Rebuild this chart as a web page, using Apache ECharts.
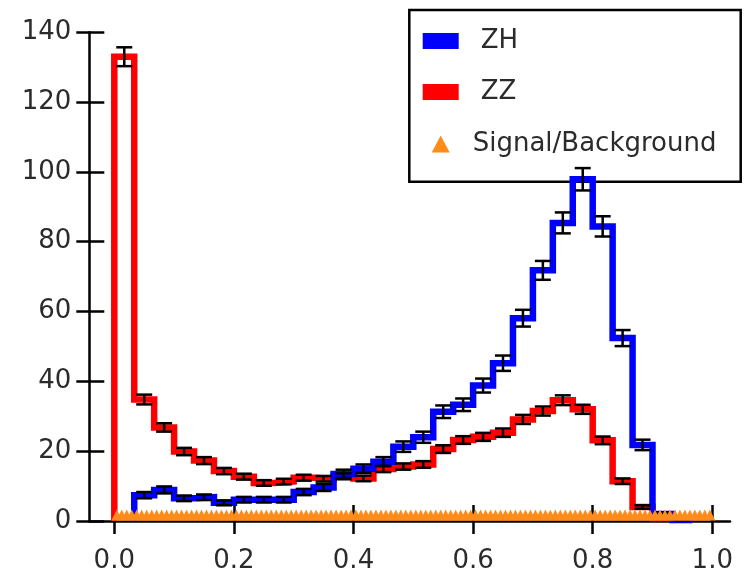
<!DOCTYPE html>
<html>
<head>
<meta charset="utf-8">
<script src="https://cdn.jsdelivr.net/npm/echarts@6/dist/echarts.min.js"></script>
<style>
  html, body { margin: 0; padding: 0; background: #ffffff; }
  #chart { width: 746px; height: 574px; }
</style>
</head>
<body>
<div id="chart"></div>
<script>
// Histogram binning: 30 equal bins on [0, 1]
const binCount = 30;
const binLow = 0;
const binHigh = 1;

// ZH (signal) bin contents and uncertainties
const zhCounts = [0, 7.4, 8.9, 6.5, 6.8, 5.2, 6.1, 6.1, 6.1, 8.3,
                  9.6, 13.5, 15.0, 17.0, 21.3, 24.0, 31.3, 33.3, 38.8, 45.2,
                  58.1, 71.8, 85.4, 97.9, 84.4, 52.4, 21.8, 2.0, 0.3, 0];
const zhErrors = [0, 0.9, 1.0, 0.8, 0.8, 0.7, 0.8, 0.8, 0.8, 0.9,
                  1.0, 1.2, 1.2, 1.3, 1.5, 1.6, 1.8, 1.8, 2.0, 2.2,
                  2.4, 2.7, 3.0, 3.2, 2.9, 2.3, 1.5, 0.5, 0.2, 0];

// ZZ (background) bin contents and uncertainties
const zzCounts = [133, 34.8, 26.8, 19.9, 17.3, 14.3, 12.7, 10.9, 11.3, 12.4,
                  12.1, 12.8, 12.2, 14.9, 15.6, 16.2, 20.6, 23.2, 24.1, 25.3,
                  29.1, 31.5, 34.6, 32.0, 23.1, 11.4, 4.0, 0.8, 0, 0];
const zzErrors = [2.7, 1.4, 1.2, 1.05, 1.0, 0.9, 0.85, 0.8, 0.8, 0.85,
                  0.8, 0.85, 0.8, 0.9, 0.9, 0.95, 1.1, 1.1, 1.15, 1.2,
                  1.3, 1.3, 1.4, 1.3, 1.1, 0.8, 0.5, 0.2, 0, 0];

// Signal/Background in 120 fine bins on [0, 1]
const ratioBinCount = 120;
const ratioValues = [
  1.7, 1.7, 1.7, 1.7, 1.7, 1.7, 1.7, 1.7, 1.7, 1.7, 1.7, 1.7,
  1.7, 1.7, 1.7, 1.7, 1.7, 1.7, 1.7, 1.7, 1.7, 1.7, 1.7, 1.7,
  1.7, 1.7, 1.7, 1.7, 1.7, 1.7, 1.7, 1.7, 1.7, 1.7, 1.7, 1.7,
  1.7, 1.7, 1.7, 1.7, 1.7, 1.7, 1.7, 1.7, 1.7, 1.7, 1.7, 1.7,
  1.7, 1.7, 1.7, 1.7, 1.7, 1.7, 1.7, 1.7, 1.7, 1.7, 1.7, 1.7,
  1.7, 1.7, 1.7, 1.7, 1.7, 1.7, 1.7, 1.7, 1.7, 1.7, 1.7, 1.7,
  1.7, 1.7, 1.7, 1.7, 1.7, 1.7, 1.7, 1.7, 1.7, 1.7, 1.7, 1.7,
  1.7, 1.7, 1.7, 1.7, 1.7, 1.7, 1.7, 1.7, 1.7, 1.7, 1.7, 1.7,
  1.7, 1.7, 1.7, 1.7, 1.7, 1.7, 1.7, 1.7, 1.7, 1.7, 1.7, 1.7,
  1.7, 1.7, 1.7, 1.7, 1.7, 1.7, 1.7, 1.7, 1.7, 1.7, 1.7, 1.7
];

// Axis ticks
const xTickValues = [0.0, 0.2, 0.4, 0.6, 0.8, 1.0];
const yMin = 0, yMax = 140, yStep = 20;

const FONT = 'DejaVu Sans';
const TEXT = '#2b2b2b';

const binWidth = (binHigh - binLow) / binCount;

// Outline of a filled-bin histogram, closed down to the baseline at both ends
function histogramOutline(counts) {
  const first = counts.findIndex(v => v > 0);
  let last = counts.length - 1;
  while (last > 0 && !(counts[last] > 0)) last--;
  const pts = [[binLow + first * binWidth, 0]];
  for (let i = first; i <= last; i++) {
    pts.push([binLow + i * binWidth, counts[i]]);
    pts.push([binLow + (i + 1) * binWidth, counts[i]]);
  }
  pts.push([binLow + (last + 1) * binWidth, 0]);
  return pts;
}

// Bin-centre points carrying their uncertainty
function errorPoints(counts, errors) {
  const out = [];
  counts.forEach((v, i) => {
    if (v > 0) out.push([binLow + (i + 0.5) * binWidth, v, errors[i]]);
  });
  return out;
}

function renderErrorBar(params, api) {
  const x = api.value(0), y = api.value(1), e = api.value(2);
  const top = api.coord([x, y + e]);
  const bot = api.coord([x, y - e]);
  const hw = 8;
  const style = { stroke: '#000000', lineWidth: 2.5 };
  return {
    type: 'group',
    children: [
      { type: 'line', shape: { x1: top[0], y1: top[1], x2: bot[0], y2: bot[1] }, style },
      { type: 'line', shape: { x1: top[0] - hw, y1: top[1], x2: top[0] + hw, y2: top[1] }, style },
      { type: 'line', shape: { x1: bot[0] - hw, y1: bot[1], x2: bot[0] + hw, y2: bot[1] }, style }
    ]
  };
}

const ratioWidth = (binHigh - binLow) / ratioBinCount;
const ratioPoints = ratioValues.map((v, i) => [binLow + (i + 0.5) * ratioWidth, v]);

const chart = echarts.init(document.getElementById('chart'), null, { renderer: 'canvas' });

const axisLineStyle = { color: '#000000', width: 2.5 };
const xMinShown = -0.0418, xMaxShown = 1.0296;

const legendText = { fontSize: 26, fontFamily: FONT, color: TEXT };

chart.setOption({
  animation: false,
  backgroundColor: '#ffffff',
  grid: { left: 89.3, top: 32.3, width: 640.7, height: 491.7, containLabel: false },
  xAxis: [
    {
      type: 'value', position: 'bottom', min: xMinShown, max: xMaxShown,
      axisLine: { show: true, onZero: false, lineStyle: axisLineStyle },
      axisTick: { show: true, inside: false, length: 13, customValues: xTickValues, lineStyle: axisLineStyle },
      axisLabel: {
        show: true, customValues: xTickValues, margin: 27,
        fontSize: 26, fontFamily: FONT, color: TEXT,
        formatter: v => Number(v).toFixed(1)
      },
      splitLine: { show: false }
    },
    {
      type: 'value', position: 'bottom', min: xMinShown, max: xMaxShown,
      axisLine: { show: false, onZero: false },
      axisTick: { show: true, inside: true, length: 16, customValues: xTickValues, lineStyle: axisLineStyle },
      axisLabel: { show: false },
      splitLine: { show: false }
    }
  ],
  yAxis: [
    {
      type: 'value', position: 'left', min: yMin, max: yMax, interval: yStep,
      axisLine: { show: true, onZero: false, lineStyle: axisLineStyle },
      axisTick: { show: true, inside: false, length: 13, lineStyle: axisLineStyle },
      axisLabel: { show: true, margin: 18, fontSize: 26, fontFamily: FONT, color: TEXT },
      splitLine: { show: false }
    },
    {
      type: 'value', position: 'left', min: yMin, max: yMax, interval: yStep,
      axisLine: { show: false, onZero: false },
      axisTick: { show: true, inside: true, length: 15, lineStyle: axisLineStyle },
      axisLabel: { show: false },
      splitLine: { show: false }
    }
  ],
  legend: [
    {
      data: [{ name: 'ZH', icon: 'rect', itemStyle: { color: '#0000ff' } }],
      left: 422.7, top: 28, padding: 0,
      itemWidth: 36, itemHeight: 16, selectedMode: false,
      textStyle: Object.assign({ padding: [0, 0, 0, 17] }, legendText)
    },
    {
      data: [{ name: 'ZZ', icon: 'rect', itemStyle: { color: '#ff0000' } }],
      left: 422.7, top: 79, padding: 0,
      itemWidth: 36, itemHeight: 16, selectedMode: false,
      textStyle: Object.assign({ padding: [0, 0, 0, 17] }, legendText)
    },
    {
      data: [{ name: 'Signal/Background', icon: 'triangle', itemStyle: { color: '#ff8c1a' } }],
      left: 431.7, top: 131, padding: 0,
      itemWidth: 18, itemHeight: 17, selectedMode: false,
      textStyle: Object.assign({ padding: [0, 0, 0, 18] }, legendText)
    }
  ],
  graphic: [
    {
      type: 'rect', z: 0,
      shape: { x: 409.3, y: 10, width: 331.4, height: 171.7 },
      style: { fill: '#ffffff', stroke: '#000000', lineWidth: 2.5 }
    }
  ],
  series: [
    {
      name: 'ZZ', type: 'line', xAxisIndex: 0, yAxisIndex: 0,
      data: histogramOutline(zzCounts),
      showSymbol: false, symbol: 'none', color: '#ff0000',
      lineStyle: { color: '#ff0000', width: 6.5, join: 'miter', cap: 'butt' },
      z: 3
    },
    {
      name: 'ZH', type: 'line', xAxisIndex: 0, yAxisIndex: 0,
      data: histogramOutline(zhCounts),
      showSymbol: false, symbol: 'none', color: '#0000ff',
      lineStyle: { color: '#0000ff', width: 6.5, join: 'miter', cap: 'butt' },
      z: 4
    },
    {
      name: 'ZZ', type: 'custom', xAxisIndex: 0, yAxisIndex: 0,
      renderItem: renderErrorBar, data: errorPoints(zzCounts, zzErrors),
      color: '#ff0000', z: 5
    },
    {
      name: 'ZH', type: 'custom', xAxisIndex: 0, yAxisIndex: 0,
      renderItem: renderErrorBar, data: errorPoints(zhCounts, zhErrors),
      color: '#0000ff', z: 5
    },
    {
      name: 'Signal/Background', type: 'scatter', xAxisIndex: 0, yAxisIndex: 0,
      data: ratioPoints, symbol: 'triangle', symbolSize: [11, 11],
      itemStyle: { color: '#ff8c1a', opacity: 1 },
      z: 6
    }
  ]
});
</script>
</body>
</html>
